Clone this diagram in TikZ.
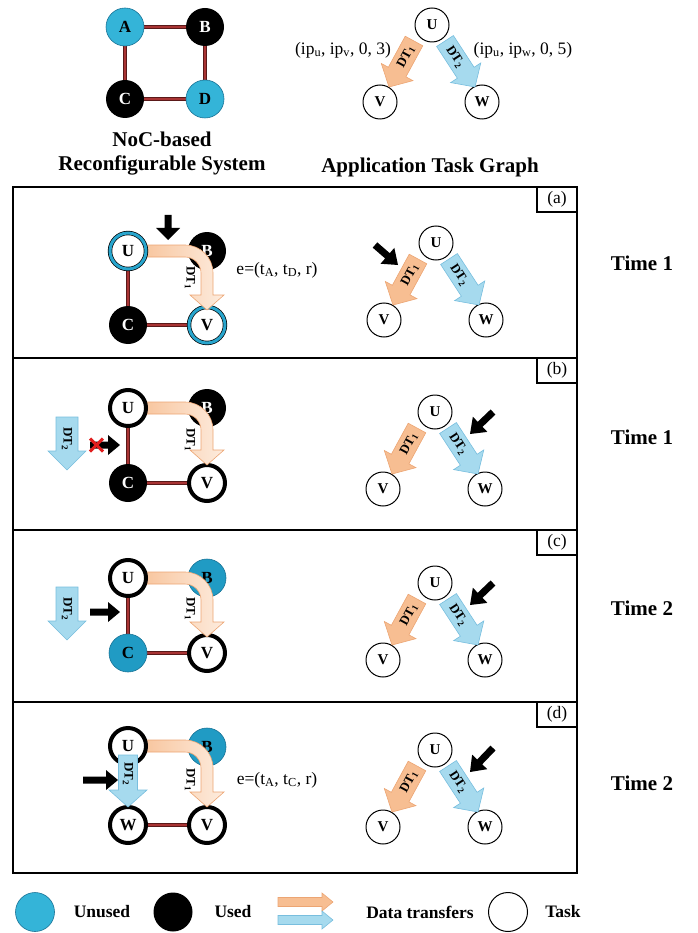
\documentclass[tikz,border=0pt]{standalone}
\usepackage{fontspec}
\setmainfont{Liberation Serif}
\usetikzlibrary{calc,backgrounds}
\definecolor{cyanA}{RGB}{52,180,216}
\definecolor{cyanB}{RGB}{32,155,196}
\definecolor{cyanE}{RGB}{25,115,150}
\definecolor{linkred}{RGB}{168,52,52}
\definecolor{linkdark}{RGB}{90,25,25}
\definecolor{orfill}{RGB}{247,190,146}
\definecolor{orline}{RGB}{236,165,115}
\definecolor{orlight}{RGB}{253,236,222}
\definecolor{blfill}{RGB}{166,218,238}
\definecolor{blline}{RGB}{120,190,222}
\definecolor{ringcyan}{RGB}{40,165,205}
\definecolor{xred}{RGB}{225,30,30}

% block arrow: #1 style, #2 tail, #3 tip, #4 shaft half width, #5 head half width, #6 head length
\newcommand\blockarr[6]{%
  \coordinate (hb) at ($(#3)!#6pt!(#2)$);
  \path[#1] ($(#2)!#4pt!90:(#3)$) -- ($(hb)!#4pt!90:(#3)$) -- ($(hb)!#5pt!90:(#3)$) -- (#3)
     -- ($(hb)!#5pt!-90:(#3)$) -- ($(hb)!#4pt!-90:(#3)$) -- ($(#2)!#4pt!-90:(#3)$) -- cycle;}

% bent orange arrow: #1 y of U row, #2 y of tip (pixels, downward)
\newcommand\bentarr[2]{%
  \path[bentstyle] (128,-#1+6) -- (185,-#1+6) arc[start angle=90,end angle=0,radius=28pt]
     -- (213,-#2+15) -- (224,-#2+15) -- (207,-#2) -- (190,-#2+15) -- (201,-#2+15)
     -- (201,-#1-22) arc[start angle=0,end angle=90,radius=16pt] -- (128,-#1-6) -- cycle;}

% task graph: #1 prefix, #2 x of U, #3 y of U
\newcommand\taskgraph[3]{%
  \node[task] (#1U) at (#2,-#3) {U};
  \node[task] (#1V) at ({#2-52},{-#3-77}) {V};
  \node[task] (#1W) at ({#2+50},{-#3-77}) {W};
  \blockarr{orarr}{{#2-18},{-#3-16}}{{#2-43},{-#3-62}}{10}{18}{17}
  \blockarr{blarr}{{#2+13},{-#3-16}}{{#2+43},{-#3-62}}{10}{18}{17}
  \node[dtlbl, rotate=61.5] (#1DTa) at ({#2-26},{-#3-32}) {DT\textsubscript{1}};
  \node[dtlbl, rotate=-57] (#1DTb) at ({#2+23},{-#3-32}) {DT\textsubscript{2}};
}

\begin{document}
\begin{tikzpicture}[x=1pt,y=1pt,
  pe/.style={circle, minimum size=38pt, inner sep=0pt, font=\fontsize{17}{17}\selectfont\bfseries},
  peblack/.style={pe, fill=black, text=white},
  pecyan/.style={pe, fill=cyanA, draw=cyanE, line width=0.6pt},
  pecyanb/.style={pe, fill=cyanB, draw=cyanE, line width=0.6pt},
  mapring/.style={pe, minimum size=36pt, fill=white, draw=black, line width=0.7pt, double=ringcyan, double distance=3pt},
  mapthick/.style={pe, minimum size=36pt, fill=white, draw=black, line width=4pt},
  task/.style={circle, draw=black, line width=1pt, fill=white, minimum size=34pt, inner sep=0pt, font=\fontsize{15}{15}\selectfont\bfseries},
  link/.style={draw=linkred, line width=2.4pt, preaction={draw=linkdark, line width=3.6pt}},
  orarr/.style={fill=orfill, draw=orline, line width=0.6pt},
  blarr/.style={fill=blfill, draw=blline, line width=0.6pt},
  bentstyle/.style={left color=orfill, right color=orlight, draw=orline, line width=0.6pt},
  blkarr/.style={fill=black},
  dtlbl/.style={font=\fontsize{13}{13}\selectfont\bfseries, inner sep=0pt},
  panelbox/.style={draw=black, line width=2pt},
  ttl/.style={font=\fontsize{21}{24}\selectfont\bfseries, align=center},
  txt/.style={font=\fontsize{17.5}{20}\selectfont},
  legtxt/.style={font=\fontsize{17.5}{20}\selectfont\bfseries},
  xmark/.style={draw=xred, line width=3pt}
]
\useasboundingbox (0,0) rectangle (697,-933);

% ---------- top: NoC ----------
\node[pecyan] (A) at (125,-27) {A};
\node[peblack] (B) at (205,-27) {B};
\node[peblack] (C) at (125,-99) {C};
\node[pecyan] (D) at (205,-99) {D};
\begin{scope}[on background layer]
  \draw[link] (A) -- (B);
  \draw[link] (B) -- (D);
  \draw[link] (A) -- (C);
  \draw[link] (C) -- (D);
\end{scope}
\node[ttl] (noctitle) at (162,-154) {NoC-based\\Reconfigurable System};

% ---------- top: task graph ----------
\taskgraph{t}{432}{25}
\node[txt] (lblv) at (343,-50) {(ip\textsubscript{u}, ip\textsubscript{v}, 0, 3)};
\node[txt] (lblw) at (523,-50) {(ip\textsubscript{u}, ip\textsubscript{w}, 0, 5)};
\node[ttl] (apptitle) at (430,-167) {Application Task Graph};

% ---------- panel frames ----------
\begin{scope}[on background layer]
  \draw[panelbox] (13,-187) rectangle (577,-358);
  \draw[panelbox] (13,-358) rectangle (577,-530);
  \draw[panelbox] (13,-530) rectangle (577,-702);
  \draw[panelbox] (13,-702) rectangle (577,-873);
\end{scope}
\draw[panelbox] (537,-187) rectangle (577,-212);
\draw[panelbox] (537,-358) rectangle (577,-383);
\draw[panelbox] (537,-530) rectangle (577,-555);
\draw[panelbox] (537,-702) rectangle (577,-727);
\node[txt] (la) at (557,-199.5) {(a)};
\node[txt] (lb) at (557,-370.5) {(b)};
\node[txt] (lc) at (557,-542.5) {(c)};
\node[txt] (ld) at (557,-714.5) {(d)};
\node[ttl] (time1a) at (642,-263) {Time 1};
\node[ttl] (time1b) at (642,-437) {Time 1};
\node[ttl] (time2c) at (642,-608) {Time 2};
\node[ttl] (time2d) at (642,-783) {Time 2};

% ---------- panel (a) ----------
\node[peblack] (aB) at (207,-251) {B};
\node[mapring] (aV) at (207,-325) {V};
\node[peblack] (aC) at (128,-325) {C};
\bentarr{251}{310}
\node[dtlbl, rotate=-90] (aDT) at (190,-278) {DT\textsubscript{1}};
\node[mapring] (aU) at (128,-251) {U};
\begin{scope}[on background layer]
  \draw[link] (aU) -- (aC);
  \draw[link] (aC) -- (aV);
\end{scope}
\blockarr{blkarr}{168,-215}{168,-240}{3.5}{12}{12}
\node[txt] (ea) at (277,-270) {e=(t\textsubscript{A}, t\textsubscript{D}, r)};
\taskgraph{a}{436}{243}
\blockarr{blkarr}{375,-245}{398,-265}{3.5}{10.5}{14}

% ---------- panel (b) ----------
\node[peblack] (bB) at (207,-408) {B};
\node[mapthick] (bV) at (207,-483) {V};
\node[peblack] (bC) at (128,-483) {C};
\bentarr{408}{465}
\node[dtlbl, rotate=-90] (bDT) at (190,-440) {DT\textsubscript{1}};
\node[mapthick] (bU) at (128,-408) {U};
\begin{scope}[on background layer]
  \draw[link] (bU) -- (bC);
  \draw[link] (bC) -- (bV);
\end{scope}
\blockarr{blarr}{67,-417}{67,-470}{11}{19}{19}
\node[dtlbl, rotate=-90] (bDT2) at (67,-439) {DT\textsubscript{2}};
\blockarr{blkarr}{90,-445}{120,-445}{3.5}{10}{12}
\draw[xmark] (90,-438.5) -- (103,-451.5) (90,-451.5) -- (103,-438.5);
\taskgraph{b}{435}{412}
\blockarr{blkarr}{493,-412}{470,-434}{3.5}{10.5}{14}

% ---------- panel (c) ----------
\node[pecyanb] (cB) at (207,-578) {B};
\node[mapthick] (cV) at (207,-653) {V};
\node[pecyanb] (cC) at (128,-653) {C};
\bentarr{578}{637}
\node[dtlbl, rotate=-90] (cDT) at (190,-609) {DT\textsubscript{1}};
\node[mapthick] (cU) at (128,-578) {U};
\begin{scope}[on background layer]
  \draw[link] (cU) -- (cC);
  \draw[link] (cC) -- (cV);
\end{scope}
\blockarr{blarr}{67,-587}{67,-640}{11}{19}{19}
\node[dtlbl, rotate=-90] (cDT2) at (67,-609) {DT\textsubscript{2}};
\blockarr{blkarr}{90,-612}{120,-612}{3.5}{10}{12}
\taskgraph{c}{435}{583}
\blockarr{blkarr}{493,-583}{470,-605}{3.5}{10.5}{14}

% ---------- panel (d) ----------
\node[pecyanb] (dB) at (207,-747) {B};
\node[mapthick] (dV) at (207,-825) {V};
\node[mapthick] (dW) at (128,-825) {W};
\bentarr{746}{807}
\node[dtlbl, rotate=-90] (dDT) at (190,-780) {DT\textsubscript{1}};
\node[mapthick] (dU) at (128,-746) {U};
\begin{scope}[on background layer]
  \draw[link] (dW) -- (dV);
\end{scope}
\blockarr{blarr}{128,-755}{128,-807}{9.5}{19}{17}
\node[dtlbl, rotate=-90] (dDT2) at (128,-774) {DT\textsubscript{2}};
\blockarr{blkarr}{83,-780}{118,-780}{3.5}{10}{12}
\node[txt] (ed) at (277,-780) {e=(t\textsubscript{A}, t\textsubscript{C}, r)};
\taskgraph{d}{435}{750}
\blockarr{blkarr}{493,-748}{470,-772}{3.5}{10.5}{14}

% ---------- legend ----------
\node[pe, minimum size=39pt, fill=cyanA, draw=cyanE, line width=0.6pt] (legU) at (35,-912) {};
\node[legtxt] (legUt) at (102,-912) {Unused};
\node[pe, minimum size=39pt, fill=black] (legB) at (173,-912) {};
\node[legtxt] (legBt) at (233,-912) {Used};
\blockarr{orarr}{278,-902}{333,-902}{4.5}{9}{11}
\blockarr{blarr}{278,-920}{333,-920}{4.5}{9}{11}
\node[legtxt] (legDt) at (420,-912) {Data transfers};
\node[circle, draw=black, line width=1pt, fill=white, minimum size=39pt] (legT) at (508,-912) {};
\node[legtxt] (legTt) at (563,-912) {Task};
\end{tikzpicture}
\end{document}
